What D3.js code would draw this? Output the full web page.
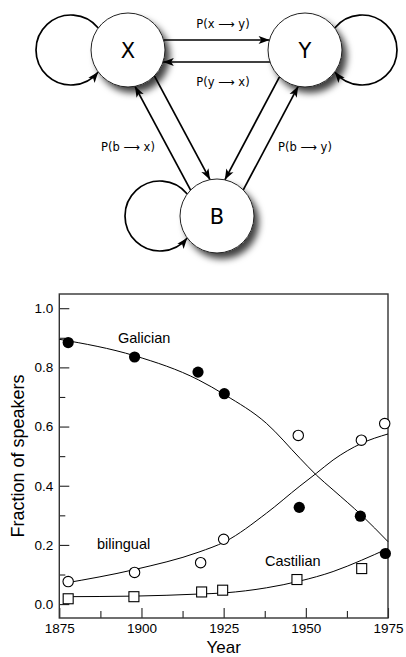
<!DOCTYPE html>
<html>
<head>
<meta charset="utf-8">
<script src="https://cdn.jsdelivr.net/npm/d3@7"></script>
<style>
  body { margin: 0; background: #fff; }
  svg { display: block; font-family: "Liberation Sans", Arial, sans-serif; }
</style>
</head>
<body>
<div id="canvas"></div>
<script>
// observed data (fraction of speakers)
var galicianYears   = [1877.7, 1897.9, 1917.2, 1925.2, 1948.0, 1966.6, 1974.2];
var galicianValues  = [0.884, 0.835, 0.784, 0.711, 0.327, 0.297, 0.171];
var bilingualYears  = [1877.7, 1897.9, 1918.0, 1925.0, 1947.7, 1966.9, 1974.0];
var bilingualValues = [0.076, 0.107, 0.140, 0.219, 0.570, 0.554, 0.610];
var castilianYears  = [1877.7, 1897.7, 1918.3, 1924.7, 1947.3, 1967.0];
var castilianValues = [0.018, 0.025, 0.041, 0.047, 0.083, 0.120];

// model curves
var galicianFitYears   = [1875, 1898, 1917.3, 1925.4, 1938, 1948.2, 1953.2, 1958.3, 1966.9, 1975];
var galicianFitValues  = [0.895, 0.839, 0.758, 0.707, 0.611, 0.493, 0.436, 0.386, 0.301, 0.211];
var bilingualFitYears  = [1876.2, 1898, 1917.5, 1925.4, 1938, 1948.2, 1953.2, 1958.3, 1966.9, 1975];
var bilingualFitValues = [0.070, 0.117, 0.176, 0.211, 0.307, 0.399, 0.442, 0.487, 0.543, 0.575];
var castilianFitYears  = [1876.2, 1898, 1917.5, 1925.4, 1938, 1948.2, 1958.3, 1966.9, 1975];
var castilianFitValues = [0.025, 0.027, 0.034, 0.038, 0.055, 0.078, 0.110, 0.148, 0.188];

var xTicks = [1875, 1900, 1925, 1950, 1975];
var xMinorTicks = [1887.5, 1912.5, 1937.5, 1962.5];
var yTicks = [0, 0.2, 0.4, 0.6, 0.8, 1.0];
var yMinorTicks = [0.1, 0.3, 0.5, 0.7, 0.9];

// diagram
var nodes = [
  {id: "X", x: 128, y: 50, loop: 180},
  {id: "Y", x: 305, y: 50, loop: 0},
  {id: "B", x: 217, y: 216, loop: 180}
];
var edges = [
  {s: "X", t: "Y", off: -10},
  {s: "Y", t: "X", off: -12},
  {s: "X", t: "B", off: -11},
  {s: "B", t: "X", off: -11},
  {s: "Y", t: "B", off: 10},
  {s: "B", t: "Y", off: 11}
];
var edgeLabels = [
  {text: "P(x \u27F6 y)", x: 223, y: 28},
  {text: "P(y \u27F6 x)", x: 223, y: 86},
  {text: "P(b \u27F6 x)", x: 128, y: 151},
  {text: "P(b \u27F6 y)", x: 305, y: 151}
];

var W = 406, H = 657, R = 37, loopR = 35, loopDist = 57;

var svg = d3.select("#canvas").append("svg")
  .attr("width", W).attr("height", H);

var defs = svg.append("defs");
var f = defs.append("filter").attr("id", "shadow")
  .attr("x", "-30%").attr("y", "-30%").attr("width", "170%").attr("height", "170%");
f.append("feDropShadow").attr("dx", 5).attr("dy", 6).attr("stdDeviation", 3.5)
  .attr("flood-color", "#000").attr("flood-opacity", 0.75);

defs.append("marker").attr("id", "arrow")
  .attr("viewBox", "0 -5 12 10").attr("refX", 12).attr("refY", 0)
  .attr("markerUnits", "userSpaceOnUse")
  .attr("markerWidth", 11).attr("markerHeight", 9).attr("orient", "auto")
  .append("path").attr("d", "M0,-4.5L12,0L0,4.5L3,0Z").attr("fill", "#000");

var byId = {};
nodes.forEach(function (n) { byId[n.id] = n; });

// node circles with shadow
svg.append("g").selectAll("circle").data(nodes).join("circle")
  .attr("cx", function (d) { return d.x; })
  .attr("cy", function (d) { return d.y; })
  .attr("r", R)
  .attr("fill", "#fff")
  .attr("filter", "url(#shadow)");

// edges between nodes
svg.append("g").selectAll("line").data(edges).join("line")
  .each(function (e) {
    var a = byId[e.s], b = byId[e.t];
    var dx = b.x - a.x, dy = b.y - a.y, L = Math.hypot(dx, dy);
    var ux = dx / L, uy = dy / L, nx = -uy, ny = ux;
    var t = Math.sqrt(R * R - e.off * e.off);
    d3.select(this)
      .attr("x1", a.x + ux * t + nx * e.off)
      .attr("y1", a.y + uy * t + ny * e.off)
      .attr("x2", a.x + ux * (L - t) + nx * e.off)
      .attr("y2", a.y + uy * (L - t) + ny * e.off);
  })
  .attr("stroke", "#000").attr("stroke-width", 1.7)
  .attr("marker-end", "url(#arrow)");

// self loops
svg.append("g").selectAll("path").data(nodes).join("path")
  .attr("d", function (n) {
    var ang = n.loop * Math.PI / 180;
    var ux = Math.cos(ang), uy = Math.sin(ang);
    var a = (loopDist * loopDist + R * R - loopR * loopR) / (2 * loopDist);
    var h = Math.sqrt(R * R - a * a);
    var px = n.x + ux * a, py = n.y + uy * a;
    var p1 = [px + uy * h, py - ux * h], p2 = [px - uy * h, py + ux * h];
    var sweep = ux < 0 ? 0 : 1;
    if (ux < 0) { var tmp = p1; p1 = [px - uy * h, py + ux * h]; p2 = tmp; }
    return "M" + p1[0] + "," + p1[1] + " A" + loopR + "," + loopR + " 0 1 " + sweep + " " + p2[0] + "," + p2[1];
  })
  .attr("fill", "none").attr("stroke", "#000").attr("stroke-width", 1.7)
  .attr("marker-end", "url(#arrow)");

// circle outlines on top
svg.append("g").selectAll("circle").data(nodes).join("circle")
  .attr("cx", function (d) { return d.x; })
  .attr("cy", function (d) { return d.y; })
  .attr("r", R)
  .attr("fill", "none").attr("stroke", "#222").attr("stroke-width", 1);

svg.append("g").selectAll("text").data(nodes).join("text")
  .attr("x", function (d) { return d.x; })
  .attr("y", function (d) { return d.y + 8; })
  .attr("text-anchor", "middle")
  .attr("font-family", "'DejaVu Sans', sans-serif")
  .attr("font-size", 21)
  .text(function (d) { return d.id; });

svg.append("g").selectAll("text").data(edgeLabels).join("text")
  .attr("x", function (d) { return d.x; })
  .attr("y", function (d) { return d.y; })
  .attr("text-anchor", "middle")
  .attr("font-family", "'DejaVu Sans', sans-serif")
  .attr("font-size", 11.5)
  .text(function (d) { return d.text; });

// ---------- chart ----------
var plotLeft = 59.3, plotRight = 388, plotTop = 294, plotBottom = 618;

var x = d3.scaleLinear().domain([1875, 1975]).range([plotLeft, plotRight]);
var y = d3.scaleLinear().domain([-0.047, 1.048]).range([plotBottom, plotTop]);

var chart = svg.append("g");

chart.append("g").attr("transform", "translate(" + plotLeft + ",0)")
  .call(d3.axisLeft(y).tickValues(yTicks).tickSize(-10).tickPadding(6).tickFormat(d3.format(".1f")))
  .call(function (g) { g.select(".domain").remove(); });
chart.append("g").attr("transform", "translate(" + plotLeft + ",0)")
  .call(d3.axisLeft(y).tickValues(yMinorTicks).tickSize(-6).tickFormat(""))
  .call(function (g) { g.select(".domain").remove(); });
chart.append("g").attr("transform", "translate(0," + plotBottom + ")")
  .call(d3.axisBottom(x).tickValues(xTicks).tickSize(-10).tickPadding(5).tickFormat(d3.format("d")))
  .call(function (g) { g.select(".domain").remove(); });
chart.append("g").attr("transform", "translate(0," + plotBottom + ")")
  .call(d3.axisBottom(x).tickValues(xMinorTicks).tickSize(-7).tickFormat(""))
  .call(function (g) { g.select(".domain").remove(); });

chart.selectAll(".tick text")
  .attr("font-family", "'Liberation Sans', Arial, sans-serif")
  .attr("font-size", 13.5).attr("fill", "#000");
chart.selectAll(".tick line").attr("stroke", "#222").attr("stroke-width", 1.1);

chart.append("rect")
  .attr("x", plotLeft).attr("y", plotTop)
  .attr("width", plotRight - plotLeft).attr("height", plotBottom - plotTop)
  .attr("fill", "none").attr("stroke", "#333").attr("stroke-width", 1.4);

var line = d3.line().curve(d3.curveMonotoneX)
  .x(function (d) { return x(d[0]); })
  .y(function (d) { return y(d[1]); });

[[galicianFitYears, galicianFitValues],
 [bilingualFitYears, bilingualFitValues],
 [castilianFitYears, castilianFitValues]].forEach(function (s) {
  chart.append("path")
    .datum(d3.zip(s[0], s[1]))
    .attr("d", line)
    .attr("fill", "none").attr("stroke", "#000").attr("stroke-width", 1);
});

chart.append("g").selectAll("circle")
  .data(d3.zip(bilingualYears, bilingualValues)).join("circle")
  .attr("cx", function (d) { return x(d[0]); })
  .attr("cy", function (d) { return y(d[1]); })
  .attr("r", 5.2)
  .attr("fill", "#fff").attr("stroke", "#000").attr("stroke-width", 1.1);

chart.append("g").selectAll("rect")
  .data(d3.zip(castilianYears, castilianValues)).join("rect")
  .attr("x", function (d) { return x(d[0]) - 5; })
  .attr("y", function (d) { return y(d[1]) - 5; })
  .attr("width", 10).attr("height", 10)
  .attr("fill", "#fff").attr("stroke", "#000").attr("stroke-width", 1.1);

chart.append("g").selectAll("circle")
  .data(d3.zip(galicianYears, galicianValues)).join("circle")
  .attr("cx", function (d) { return x(d[0]); })
  .attr("cy", function (d) { return y(d[1]); })
  .attr("r", 5.6)
  .attr("fill", "#000");

var seriesLabels = [
  {text: "Galician", x: 118, y: 343},
  {text: "bilingual", x: 97, y: 549},
  {text: "Castilian", x: 265, y: 566}
];
chart.append("g").selectAll("text").data(seriesLabels).join("text")
  .attr("x", function (d) { return d.x; })
  .attr("y", function (d) { return d.y; })
  .attr("font-size", 14.5)
  .text(function (d) { return d.text; });

chart.append("text")
  .attr("x", (plotLeft + plotRight) / 2).attr("y", 653)
  .attr("text-anchor", "middle").attr("font-size", 17)
  .text("Year");

chart.append("text")
  .attr("transform", "translate(24," + 456 + ") rotate(-90)")
  .attr("text-anchor", "middle").attr("font-size", 18)
  .text("Fraction of speakers");
</script>
</body>
</html>
